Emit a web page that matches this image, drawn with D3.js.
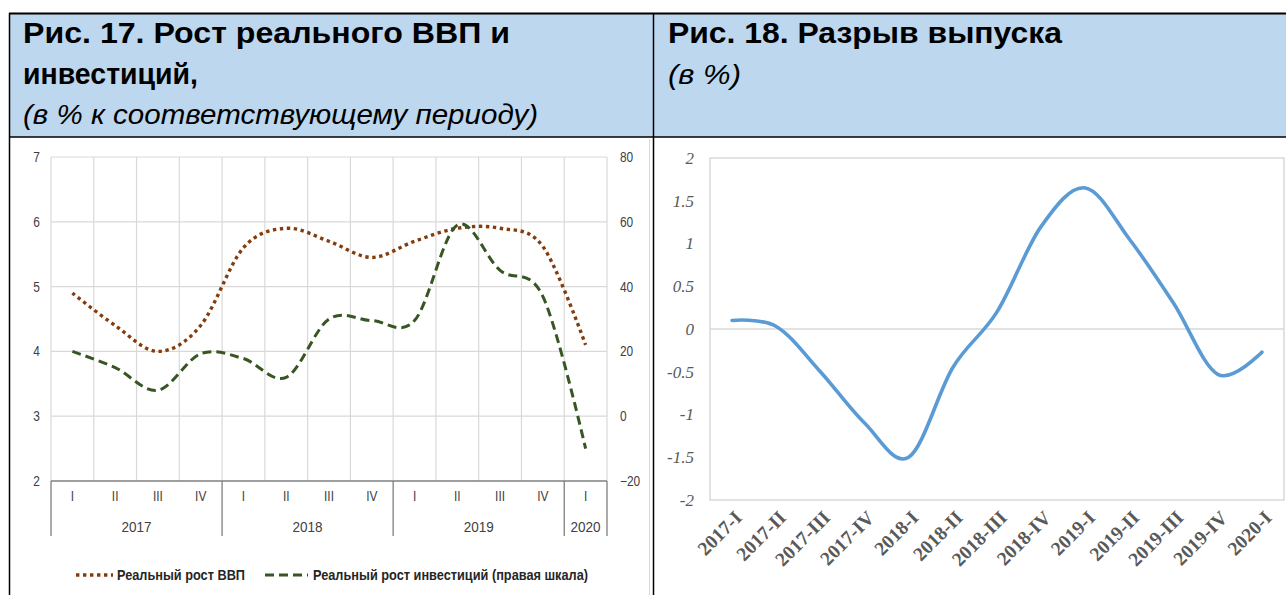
<!DOCTYPE html>
<html><head><meta charset="utf-8">
<script src="https://cdn.jsdelivr.net/npm/d3@7"></script>
<style>
html,body{margin:0;padding:0;background:#fff;}
svg{display:block;}
.narrow{font-family:"Liberation Sans Narrow","Arial Narrow","Liberation Sans",Arial,sans-serif;}
</style></head>
<body>
<svg id="c" width="1286" height="595"></svg>
<script>
// ---- data ----
const quarters = ["I","II","III","IV","I","II","III","IV","I","II","III","IV","I"];
const quarterYears = ["2017","2017","2017","2017","2018","2018","2018","2018","2019","2019","2019","2019","2020"];
const gdpGrowth = [4.9, 4.4, 4.0, 4.4, 5.6, 5.9, 5.7, 5.45, 5.7, 5.9, 5.9, 5.62, 4.1];
const investGrowth = [20, 15, 8, 19.3, 17.8, 12, 30, 29.5, 29.5, 59, 45, 37, -10];
const leftTicks = [2,3,4,5,6,7];
const rightTicks = [-20,0,20,40,60,80];
const gapCats = ["2017-I","2017-II","2017-III","2017-IV","2018-I","2018-II","2018-III","2018-IV","2019-I","2019-II","2019-III","2019-IV","2020-I"];
const outputGap = [0.1, 0.03, -0.5, -1.1, -1.5, -0.45, 0.2, 1.2, 1.65, 1.05, 0.3, -0.53, -0.27];
const gapTicks = [-2,-1.5,-1,-0.5,0,0.5,1,1.5,2];
const legendItems = ["Реальный рост ВВП","Реальный рост инвестиций (правая шкала)"];

const svg = d3.select("#c");

// condense text to a given width (narrow-font look)
function fit(sel, w){ sel.attr("textLength", w).attr("lengthAdjust","spacingAndGlyphs"); return sel; }
function condense(sel, k){ sel.each(function(){ const n=this.getComputedTextLength(); d3.select(this).attr("textLength", n*k).attr("lengthAdjust","spacingAndGlyphs"); }); }

// ---- header ----
svg.append("rect").attr("x",9).attr("y",13).attr("width",1277).attr("height",124).attr("fill","#BDD7EE");
const hdr = svg.append("g").attr("font-family","'Liberation Sans',Arial,sans-serif").attr("fill","#000");
fit(hdr.append("text").attr("x",23).attr("y",43).attr("font-size",29).attr("font-weight","bold").text("Рис. 17. Рост реального ВВП и"), 487);
fit(hdr.append("text").attr("x",23).attr("y",84).attr("font-size",29).attr("font-weight","bold").text("инвестиций,"), 175);
fit(hdr.append("text").attr("x",23).attr("y",124).attr("font-size",27).attr("font-style","italic").text("(в % к соответствующему периоду)"), 515);
fit(hdr.append("text").attr("x",668).attr("y",43).attr("font-size",29).attr("font-weight","bold").text("Рис. 18. Разрыв выпуска"), 394);
fit(hdr.append("text").attr("x",668).attr("y",84).attr("font-size",27).attr("font-style","italic").text("(в %)"), 73);

// frame lines
svg.append("line").attr("x1",9).attr("x2",1286).attr("y1",13.5).attr("y2",13.5).attr("stroke","#000").attr("stroke-width",2);
svg.append("line").attr("x1",9).attr("x2",1286).attr("y1",137).attr("y2",137).attr("stroke","#000").attr("stroke-width",1.5);
svg.append("line").attr("x1",9.5).attr("x2",9.5).attr("y1",13).attr("y2",595).attr("stroke","#000").attr("stroke-width",1.5);
svg.append("line").attr("x1",653.5).attr("x2",653.5).attr("y1",13).attr("y2",595).attr("stroke","#000").attr("stroke-width",1.5);
svg.append("line").attr("x1",649.5).attr("x2",649.5).attr("y1",139).attr("y2",595).attr("stroke","#d9d9d9").attr("stroke-width",1);

// ---- left chart ----
const L = {l:51, r:607, t:157, b:481};
const xL = d3.scaleBand().domain(d3.range(quarters.length)).range([L.l, L.r]);
const yL = d3.scaleLinear().domain([2,7]).range([L.b, L.t]);
const yR = d3.scaleLinear().domain([-20,80]).range([L.b, L.t]);
const gL = svg.append("g");
// gridlines
gL.append("g").selectAll("line").data(leftTicks.slice(1)).join("line")
  .attr("x1",L.l).attr("x2",L.r).attr("y1",d=>yL(d)).attr("y2",d=>yL(d))
  .attr("stroke","#d9d9d9").attr("stroke-width",1.2);
gL.append("g").selectAll("line").data(d3.range(quarters.length+1)).join("line")
  .attr("x1",i=>i<quarters.length?xL(i):L.r).attr("x2",i=>i<quarters.length?xL(i):L.r)
  .attr("y1",L.t).attr("y2",L.b).attr("stroke","#d9d9d9").attr("stroke-width",1.2);

// axes labels
const axL = d3.axisLeft(yL).tickValues(leftTicks).tickSize(0).tickPadding(11).tickFormat(d3.format("d"));
const axLg = gL.append("g").attr("transform",`translate(${L.l},0)`).call(axL);
axLg.select(".domain").remove();
axLg.selectAll("text").attr("class","narrow").attr("font-size",14).attr("fill","#404040");
condense(axLg.selectAll("text"), 0.85);
const axR = d3.axisRight(yR).tickValues(rightTicks).tickSize(0).tickPadding(13).tickFormat(d3.format("d"));
const axRg = gL.append("g").attr("transform",`translate(${L.r},0)`).call(axR);
axRg.select(".domain").remove();
axRg.selectAll("text").attr("class","narrow").attr("font-size",14).attr("fill","#404040");
condense(axRg.selectAll("text"), 0.85);

// category axis (multi-level)
gL.append("line").attr("x1",L.l).attr("x2",L.r).attr("y1",L.b).attr("y2",L.b).attr("stroke","#7f7f7f").attr("stroke-width",1.3);
const axB = d3.axisBottom(xL).tickSize(0).tickPadding(10).tickFormat(i=>quarters[i]);
const axBg = gL.append("g").attr("transform",`translate(0,${L.b})`).call(axB);
axBg.select(".domain").remove();
axBg.selectAll("text").attr("class","narrow").attr("font-size",14).attr("fill","#404040");
condense(axBg.selectAll("text"), 0.85);
// year groups
const groups = [];
quarterYears.forEach((y,i)=>{ if(!groups.length || groups[groups.length-1].y!==y) groups.push({y, s:i, e:i}); else groups[groups.length-1].e=i; });
const sepIdx = groups.map(g=>g.s).concat([quarters.length]);
gL.append("g").selectAll("line").data(sepIdx).join("line")
  .attr("x1",i=>i<quarters.length?xL(i):L.r).attr("x2",i=>i<quarters.length?xL(i):L.r)
  .attr("y1",L.b).attr("y2",536).attr("stroke","#7f7f7f").attr("stroke-width",1.3);
const yrs = gL.append("g").selectAll("text").data(groups).join("text").attr("class","narrow")
  .attr("x",g=>(xL(g.s)+xL(g.e)+xL.bandwidth())/2).attr("y",532)
  .attr("text-anchor","middle").attr("font-size",15).attr("fill","#404040").text(g=>g.y);
condense(yrs, 0.9);

// lines
const cx = i=>xL(i)+xL.bandwidth()/2;
const lineG = d3.line().x((d,i)=>cx(i)).y(d=>yL(d)).curve(d3.curveCardinal.tension(0));
const lineI = d3.line().x((d,i)=>cx(i)).y(d=>yR(d)).curve(d3.curveCardinal.tension(0));
gL.append("path").attr("d",lineG(gdpGrowth)).attr("fill","none").attr("stroke","#843C0C")
  .attr("stroke-width",3.4).attr("stroke-dasharray","3.4 3.6");
gL.append("path").attr("d",lineI(investGrowth)).attr("fill","none").attr("stroke","#375623")
  .attr("stroke-width",3).attr("stroke-dasharray","9 5");

// legend
const lg = svg.append("g");
lg.append("line").attr("x1",76).attr("x2",113).attr("y1",575).attr("y2",575).attr("stroke","#843C0C").attr("stroke-width",3.4).attr("stroke-dasharray","3.4 3.6");
fit(lg.append("text").attr("class","narrow").attr("x",117).attr("y",580).attr("font-size",15).attr("font-weight","bold").attr("fill","#262626").text(legendItems[0]), 128);
lg.append("line").attr("x1",265).attr("x2",308).attr("y1",575).attr("y2",575).attr("stroke","#375623").attr("stroke-width",3).attr("stroke-dasharray","9 5");
fit(lg.append("text").attr("class","narrow").attr("x",313).attr("y",580).attr("font-size",15).attr("font-weight","bold").attr("fill","#262626").text(legendItems[1]), 275);

// ---- right chart ----
const R = {l:710, r:1284, t:158, b:500};
const xR = d3.scaleBand().domain(gapCats).range([R.l, R.r]);
const yG = d3.scaleLinear().domain([-2,2]).range([R.b, R.t]);
const gR = svg.append("g");
gR.append("rect").attr("x",R.l).attr("y",R.t).attr("width",R.r-R.l).attr("height",R.b-R.t)
  .attr("fill","none").attr("stroke","#d9d9d9").attr("stroke-width",1.5);
gR.append("line").attr("x1",R.l).attr("x2",R.r).attr("y1",yG(0)).attr("y2",yG(0)).attr("stroke","#d9d9d9").attr("stroke-width",1.5);
const axG = d3.axisLeft(yG).tickValues(gapTicks).tickSize(0).tickPadding(16).tickFormat(d=>String(d));
const axGg = gR.append("g").attr("transform",`translate(${R.l},0)`).call(axG);
axGg.select(".domain").remove();
axGg.selectAll("text").attr("font-family","'Liberation Serif','Times New Roman',serif").attr("font-style","italic")
  .attr("font-size",17).attr("fill","#595959");
const axX = d3.axisBottom(xR).tickSize(0).tickPadding(0);
const axXg = gR.append("g").attr("transform",`translate(0,${R.b})`).call(axX);
axXg.select(".domain").remove();
axXg.selectAll("text")
  .attr("font-family","'Liberation Serif','Times New Roman',serif").attr("font-weight","bold")
  .attr("font-size",19.5).attr("fill","#595959")
  .attr("text-anchor","end").attr("dy",null).attr("y",0)
  .attr("transform","translate(11,19) rotate(-45)");
const lineO = d3.line().x((d,i)=>xR(gapCats[i])+xR.bandwidth()/2).y(d=>yG(d)).curve(d3.curveCardinal.tension(0));
gR.append("path").attr("d",lineO(outputGap)).attr("fill","none").attr("stroke","#5B9BD5")
  .attr("stroke-width",3.6).attr("stroke-linecap","round");
</script>
</body></html>
